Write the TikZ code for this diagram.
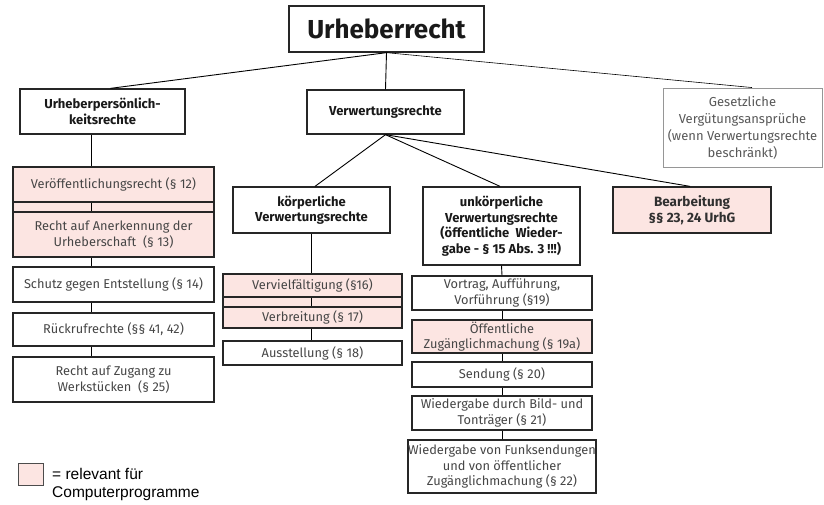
\documentclass[tikz,border=0pt]{standalone}
\usepackage{fontspec}
\setmainfont{Fira Sans}
\newfontfamily\legendfont{Liberation Sans}
\definecolor{pinkfill}{RGB}{252,229,226}
\definecolor{bodytext}{RGB}{70,70,70}
\definecolor{headtext}{RGB}{25,25,25}
\definecolor{graybord}{RGB}{150,150,150}
\begin{document}
\begin{tikzpicture}[x=1pt,y=-1pt,
  box/.style={draw=black!85, line width=1.3pt, fill=white, inner sep=0pt, align=center,
    text=bodytext, font=\fontsize{12.8}{15.5}\selectfont},
  pinkbox/.style={box, fill=pinkfill},
  headbox/.style={box, text=headtext, font=\fontsize{13}{15.5}\selectfont\bfseries},
  conn/.style={draw=black, line width=0.9pt}]
\useasboundingbox (0,0) rectangle (824,504);
% title
\node[box, text=headtext, minimum width=195pt, minimum height=46pt,
  font=\fontsize{26}{30}\selectfont\bfseries] (title) at (386.5,29) {Urheberrecht};
% level 2
\node[headbox, minimum width=165pt, minimum height=45pt] (uper) at (102.5,111.5) {Urheberpersönlich-\\keitsrechte};
\node[headbox, minimum width=157pt, minimum height=44pt] (verw) at (385.5,112) {Verwertungsrechte};
\node[box, draw=graybord, line width=0.9pt, text=bodytext!90, minimum width=159pt, minimum height=79pt,
  font=\fontsize{13}{17}\selectfont] (gesetz) at (742.5,127.5) {Gesetzliche\\Vergütungsansprüche\\(wenn Verwertungsrechte\\beschränkt)};
% left column
\coordinate (lc) at (91,0);
\node[draw=black!85, line width=1.3pt, fill=pinkfill, minimum width=201pt, minimum height=90pt, inner sep=0pt] (lgroup) at (113.5,212) {};
\node[pinkbox, minimum width=201pt, minimum height=35pt] (v12) at (113.5,184.5) {Veröffentlichungsrecht (§ 12)};
\node[pinkbox, minimum width=201pt, minimum height=45pt] (v13) at (113.5,234.5) {Recht auf Anerkennung der\\Urheberschaft~ (§ 13)};
\node[box, minimum width=201pt, minimum height=35pt] (v14) at (113.5,284.5) {Schutz gegen Entstellung (§ 14)};
\node[box, minimum width=201pt, minimum height=33pt] (v41) at (113.5,329.5) {Rückrufrechte (§§ 41, 42)};
\node[box, minimum width=201pt, minimum height=45pt] (v25) at (113.5,379.5) {Recht auf Zugang zu\\Werkstücken~ (§ 25)};
% koerperliche column
\node[headbox, minimum width=157pt, minimum height=46pt] (koerp) at (311.5,210) {körperliche\\Verwertungsrechte};
\node[draw=black!85, line width=1.3pt, fill=pinkfill, minimum width=179pt, minimum height=54pt, inner sep=0pt] (kgroup) at (312.5,301) {};
\node[pinkbox, minimum width=179pt, minimum height=23pt] (v16) at (312.5,285.5) {Vervielfältigung (§16)};
\node[pinkbox, minimum width=179pt, minimum height=21pt] (v17) at (312.5,317.5) {Verbreitung (§ 17)};
\node[box, minimum width=179pt, minimum height=24pt] (v18) at (312.5,353) {Ausstellung (§ 18)};
% unkoerperliche column
\node[headbox, minimum width=157pt, minimum height=78pt] (unk) at (501.5,226) {unkörperliche\\Verwertungsrechte\\(öffentliche~ Wieder-\\gabe - § 15 Abs. 3 !!!)};
\node[box, minimum width=180pt, minimum height=34pt] (v19) at (502,293) {Vortrag, Aufführung,\\Vorführung (§19)};
\node[pinkbox, minimum width=180pt, minimum height=33pt] (v19a) at (502,336.5) {Öffentliche\\Zugänglichmachung (§ 19a)};
\node[box, minimum width=180pt, minimum height=25pt] (v20) at (502,374.5) {Sendung (§ 20)};
\node[box, minimum width=180pt, minimum height=34pt] (v21) at (502,413) {Wiedergabe durch Bild- und\\Tonträger (§ 21)};
\node[box, minimum width=186pt, minimum height=53pt] (v22) at (502,466.5) {Wiedergabe von Funksendungen\\und von öffentlicher\\Zugänglichmachung (§ 22)};
% Bearbeitung
\node[pinkbox, text=headtext!90, font=\fontsize{13.5}{16}\selectfont\bfseries, minimum width=158pt, minimum height=46pt] (bearb) at (692,210) {Bearbeitung\\§§ 23, 24 UrhG};
% legend
\node[draw=black!70, line width=0.8pt, fill=pinkfill, minimum width=25pt, minimum height=22pt, inner sep=0pt] (legbox) at (30.5,474) {};
\node[anchor=west, align=left, inner sep=0pt, font=\legendfont\fontsize{15.5}{18}\selectfont] (legtext) at (52,484.5) {= relevant für\\Computerprogramme};
% connectors
\draw[conn] (title.south) -- ([xshift=8pt]uper.north);
\draw[conn] (title.south) -- (verw.north);
\draw[conn, line width=0.6pt] (title.south) -- ([xshift=9.5pt]gesetz.north);
\draw[conn] (verw.south) -- ([xshift=3.5pt]koerp.north);
\draw[conn] (verw.south) -- ([xshift=-1.5pt]unk.north);
\draw[conn] (verw.south) -- ([xshift=-2pt]bearb.north);
\draw[conn] (uper.south -| lc) -- (v12.north -| lc);
\draw[conn] (v12.south -| lc) -- (v13.north -| lc);
\draw[conn] (v13.south -| lc) -- (v14.north -| lc);
\draw[conn] (v14.south -| lc) -- (v41.north -| lc);
\draw[conn] (v41.south -| lc) -- (v25.north -| lc);
\draw[conn] (koerp.south) -- (v16.north -| koerp.south);
\draw[conn] (v16.south -| koerp.south) -- (v17.north -| koerp.south);
\draw[conn] (v17.south -| koerp.south) -- (v18.north -| koerp.south);
\draw[conn] (unk.south) -- (v19.north);
\draw[conn] (v19.south) -- (v19a.north);
\draw[conn] (v19a.south) -- (v20.north);
\draw[conn] (v20.south) -- (v21.north);
\draw[conn] (v21.south) -- (v22.north);
\end{tikzpicture}
\end{document}
